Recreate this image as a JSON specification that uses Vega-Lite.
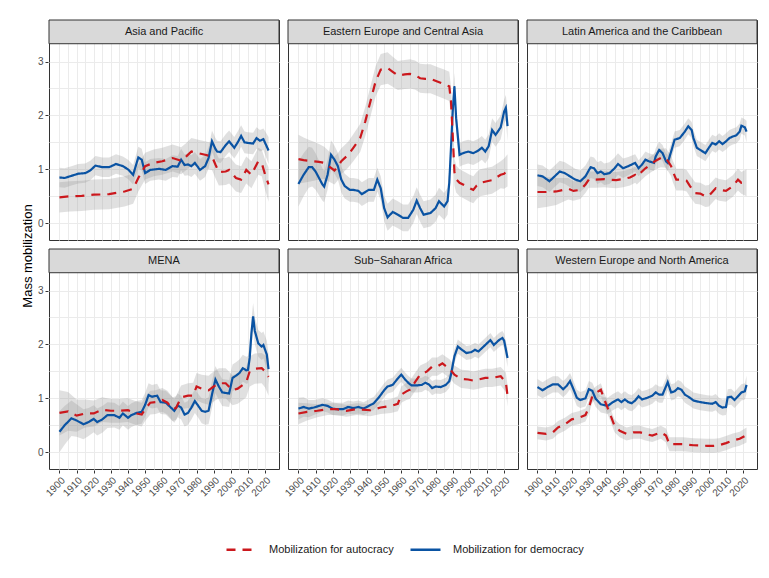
{
"$schema": "https://vega.github.io/schema/vega-lite/v6.json",
"padding": {"left": 22, "top": 19, "right": 10, "bottom": 5},
"title": {"text": "Mass mobilization", "orient": "left", "anchor": "middle", "fontSize": 13, "fontWeight": "normal", "color": "#000000", "offset": 2, "dx": 31},
"datasets": {
"names": [
{"r":"AP","region":"Asia and Pacific"},
{"r":"EE","region":"Eastern Europe and Central Asia"},
{"r":"LA","region":"Latin America and the Caribbean"},
{"r":"ME","region":"MENA"},
{"r":"SS","region":"Sub−Saharan Africa"},
{"r":"WE","region":"Western Europe and North America"}
],
"d": [
{"r":"AP","s":"d","x":1900,"v":0.85,"lo":0.67,"hi":1.03},
{"r":"AP","s":"d","x":1903,"v":0.84,"lo":0.66,"hi":1.02},
{"r":"AP","s":"d","x":1907,"v":0.88,"lo":0.70,"hi":1.06},
{"r":"AP","s":"d","x":1911,"v":0.92,"lo":0.74,"hi":1.10},
{"r":"AP","s":"d","x":1915,"v":0.93,"lo":0.75,"hi":1.11},
{"r":"AP","s":"d","x":1918,"v":0.98,"lo":0.80,"hi":1.16},
{"r":"AP","s":"d","x":1921,"v":1.07,"lo":0.89,"hi":1.25},
{"r":"AP","s":"d","x":1925,"v":1.04,"lo":0.86,"hi":1.22},
{"r":"AP","s":"d","x":1929,"v":1.04,"lo":0.86,"hi":1.22},
{"r":"AP","s":"d","x":1933,"v":1.10,"lo":0.92,"hi":1.28},
{"r":"AP","s":"d","x":1937,"v":1.06,"lo":0.88,"hi":1.24},
{"r":"AP","s":"d","x":1940,"v":1.00,"lo":0.82,"hi":1.18},
{"r":"AP","s":"d","x":1943,"v":0.90,"lo":0.72,"hi":1.08},
{"r":"AP","s":"d","x":1946,"v":1.22,"lo":1.02,"hi":1.42},
{"r":"AP","s":"d","x":1948,"v":1.18,"lo":0.98,"hi":1.38},
{"r":"AP","s":"d","x":1950,"v":0.93,"lo":0.73,"hi":1.13},
{"r":"AP","s":"d","x":1953,"v":0.99,"lo":0.79,"hi":1.19},
{"r":"AP","s":"d","x":1958,"v":1.01,"lo":0.81,"hi":1.21},
{"r":"AP","s":"d","x":1962,"v":0.99,"lo":0.79,"hi":1.19},
{"r":"AP","s":"d","x":1966,"v":1.06,"lo":0.86,"hi":1.26},
{"r":"AP","s":"d","x":1969,"v":1.05,"lo":0.85,"hi":1.25},
{"r":"AP","s":"d","x":1971,"v":1.18,"lo":0.98,"hi":1.38},
{"r":"AP","s":"d","x":1973,"v":1.08,"lo":0.88,"hi":1.28},
{"r":"AP","s":"d","x":1975,"v":1.09,"lo":0.89,"hi":1.29},
{"r":"AP","s":"d","x":1977,"v":1.06,"lo":0.86,"hi":1.26},
{"r":"AP","s":"d","x":1979,"v":1.12,"lo":0.92,"hi":1.32},
{"r":"AP","s":"d","x":1982,"v":0.99,"lo":0.79,"hi":1.19},
{"r":"AP","s":"d","x":1985,"v":1.06,"lo":0.86,"hi":1.26},
{"r":"AP","s":"d","x":1987,"v":1.21,"lo":1.01,"hi":1.41},
{"r":"AP","s":"d","x":1989,"v":1.52,"lo":1.32,"hi":1.72},
{"r":"AP","s":"d","x":1991,"v":1.38,"lo":1.18,"hi":1.58},
{"r":"AP","s":"d","x":1992,"v":1.33,"lo":1.13,"hi":1.53},
{"r":"AP","s":"d","x":1994,"v":1.32,"lo":1.12,"hi":1.52},
{"r":"AP","s":"d","x":1997,"v":1.45,"lo":1.25,"hi":1.65},
{"r":"AP","s":"d","x":1999,"v":1.52,"lo":1.32,"hi":1.72},
{"r":"AP","s":"d","x":2002,"v":1.40,"lo":1.20,"hi":1.60},
{"r":"AP","s":"d","x":2004,"v":1.50,"lo":1.30,"hi":1.70},
{"r":"AP","s":"d","x":2006,"v":1.62,"lo":1.42,"hi":1.82},
{"r":"AP","s":"d","x":2008,"v":1.50,"lo":1.30,"hi":1.70},
{"r":"AP","s":"d","x":2010,"v":1.49,"lo":1.29,"hi":1.69},
{"r":"AP","s":"d","x":2013,"v":1.48,"lo":1.28,"hi":1.68},
{"r":"AP","s":"d","x":2015,"v":1.58,"lo":1.38,"hi":1.78},
{"r":"AP","s":"d","x":2017,"v":1.53,"lo":1.33,"hi":1.73},
{"r":"AP","s":"d","x":2019,"v":1.56,"lo":1.36,"hi":1.76},
{"r":"AP","s":"d","x":2022,"v":1.35,"lo":1.10,"hi":1.60},
{"r":"AP","s":"a","x":1900,"v":0.48,"lo":0.20,"hi":0.76},
{"r":"AP","s":"a","x":1906,"v":0.50,"lo":0.22,"hi":0.78},
{"r":"AP","s":"a","x":1913,"v":0.51,"lo":0.23,"hi":0.79},
{"r":"AP","s":"a","x":1920,"v":0.53,"lo":0.25,"hi":0.81},
{"r":"AP","s":"a","x":1929,"v":0.54,"lo":0.26,"hi":0.82},
{"r":"AP","s":"a","x":1938,"v":0.59,"lo":0.31,"hi":0.87},
{"r":"AP","s":"a","x":1943,"v":0.64,"lo":0.36,"hi":0.92},
{"r":"AP","s":"a","x":1946,"v":0.84,"lo":0.59,"hi":1.09},
{"r":"AP","s":"a","x":1950,"v":1.06,"lo":0.81,"hi":1.31},
{"r":"AP","s":"a","x":1955,"v":1.12,"lo":0.87,"hi":1.37},
{"r":"AP","s":"a","x":1960,"v":1.15,"lo":0.90,"hi":1.40},
{"r":"AP","s":"a","x":1966,"v":1.21,"lo":0.96,"hi":1.46},
{"r":"AP","s":"a","x":1971,"v":1.16,"lo":0.91,"hi":1.41},
{"r":"AP","s":"a","x":1974,"v":1.24,"lo":0.99,"hi":1.49},
{"r":"AP","s":"a","x":1977,"v":1.33,"lo":1.08,"hi":1.58},
{"r":"AP","s":"a","x":1981,"v":1.30,"lo":1.05,"hi":1.55},
{"r":"AP","s":"a","x":1985,"v":1.27,"lo":1.02,"hi":1.52},
{"r":"AP","s":"a","x":1989,"v":1.24,"lo":0.99,"hi":1.49},
{"r":"AP","s":"a","x":1991,"v":1.09,"lo":0.84,"hi":1.34},
{"r":"AP","s":"a","x":1993,"v":0.95,"lo":0.70,"hi":1.20},
{"r":"AP","s":"a","x":1997,"v":0.96,"lo":0.71,"hi":1.21},
{"r":"AP","s":"a","x":1999,"v":0.99,"lo":0.74,"hi":1.24},
{"r":"AP","s":"a","x":2003,"v":0.84,"lo":0.59,"hi":1.09},
{"r":"AP","s":"a","x":2006,"v":0.81,"lo":0.56,"hi":1.06},
{"r":"AP","s":"a","x":2009,"v":0.99,"lo":0.74,"hi":1.24},
{"r":"AP","s":"a","x":2012,"v":0.90,"lo":0.65,"hi":1.15},
{"r":"AP","s":"a","x":2016,"v":1.15,"lo":0.90,"hi":1.40},
{"r":"AP","s":"a","x":2018,"v":1.12,"lo":0.87,"hi":1.37},
{"r":"AP","s":"a","x":2020,"v":0.90,"lo":0.62,"hi":1.18},
{"r":"AP","s":"a","x":2022,"v":0.72,"lo":0.40,"hi":1.04},
{"r":"EE","s":"d","x":1900,"v":0.73,"lo":0.31,"hi":1.15},
{"r":"EE","s":"d","x":1903,"v":0.90,"lo":0.50,"hi":1.30},
{"r":"EE","s":"d","x":1906,"v":1.04,"lo":0.66,"hi":1.42},
{"r":"EE","s":"d","x":1908,"v":1.04,"lo":0.68,"hi":1.40},
{"r":"EE","s":"d","x":1910,"v":0.96,"lo":0.62,"hi":1.30},
{"r":"EE","s":"d","x":1912,"v":0.84,"lo":0.52,"hi":1.16},
{"r":"EE","s":"d","x":1914,"v":0.72,"lo":0.42,"hi":1.02},
{"r":"EE","s":"d","x":1915,"v":0.68,"lo":0.39,"hi":0.97},
{"r":"EE","s":"d","x":1917,"v":0.90,"lo":0.62,"hi":1.18},
{"r":"EE","s":"d","x":1919,"v":1.27,"lo":1.00,"hi":1.54},
{"r":"EE","s":"d","x":1921,"v":1.18,"lo":0.92,"hi":1.44},
{"r":"EE","s":"d","x":1923,"v":1.06,"lo":0.81,"hi":1.31},
{"r":"EE","s":"d","x":1925,"v":0.81,"lo":0.57,"hi":1.05},
{"r":"EE","s":"d","x":1927,"v":0.69,"lo":0.46,"hi":0.92},
{"r":"EE","s":"d","x":1930,"v":0.62,"lo":0.40,"hi":0.84},
{"r":"EE","s":"d","x":1932,"v":0.62,"lo":0.40,"hi":0.84},
{"r":"EE","s":"d","x":1935,"v":0.60,"lo":0.38,"hi":0.82},
{"r":"EE","s":"d","x":1937,"v":0.54,"lo":0.32,"hi":0.76},
{"r":"EE","s":"d","x":1941,"v":0.62,"lo":0.40,"hi":0.84},
{"r":"EE","s":"d","x":1944,"v":0.62,"lo":0.40,"hi":0.84},
{"r":"EE","s":"d","x":1946,"v":0.81,"lo":0.59,"hi":1.03},
{"r":"EE","s":"d","x":1948,"v":0.65,"lo":0.43,"hi":0.87},
{"r":"EE","s":"d","x":1950,"v":0.28,"lo":0.05,"hi":0.51},
{"r":"EE","s":"d","x":1952,"v":0.11,"lo":-0.14,"hi":0.36},
{"r":"EE","s":"d","x":1955,"v":0.21,"lo":-0.04,"hi":0.46},
{"r":"EE","s":"d","x":1958,"v":0.16,"lo":-0.09,"hi":0.41},
{"r":"EE","s":"d","x":1961,"v":0.10,"lo":-0.15,"hi":0.35},
{"r":"EE","s":"d","x":1964,"v":0.10,"lo":-0.15,"hi":0.35},
{"r":"EE","s":"d","x":1967,"v":0.25,"lo":0.00,"hi":0.50},
{"r":"EE","s":"d","x":1969,"v":0.42,"lo":0.17,"hi":0.67},
{"r":"EE","s":"d","x":1971,"v":0.28,"lo":0.03,"hi":0.53},
{"r":"EE","s":"d","x":1973,"v":0.16,"lo":-0.09,"hi":0.41},
{"r":"EE","s":"d","x":1977,"v":0.19,"lo":-0.06,"hi":0.44},
{"r":"EE","s":"d","x":1980,"v":0.28,"lo":0.03,"hi":0.53},
{"r":"EE","s":"d","x":1982,"v":0.41,"lo":0.16,"hi":0.66},
{"r":"EE","s":"d","x":1985,"v":0.31,"lo":0.06,"hi":0.56},
{"r":"EE","s":"d","x":1987,"v":0.41,"lo":0.16,"hi":0.66},
{"r":"EE","s":"d","x":1988,"v":0.75,"lo":0.50,"hi":1.00},
{"r":"EE","s":"d","x":1989,"v":1.40,"lo":1.15,"hi":1.65},
{"r":"EE","s":"d","x":1990,"v":2.07,"lo":1.82,"hi":2.32},
{"r":"EE","s":"d","x":1991,"v":2.54,"lo":2.29,"hi":2.79},
{"r":"EE","s":"d","x":1992,"v":1.95,"lo":1.72,"hi":2.18},
{"r":"EE","s":"d","x":1994,"v":1.27,"lo":1.05,"hi":1.49},
{"r":"EE","s":"d","x":1996,"v":1.30,"lo":1.08,"hi":1.52},
{"r":"EE","s":"d","x":1999,"v":1.33,"lo":1.11,"hi":1.55},
{"r":"EE","s":"d","x":2002,"v":1.30,"lo":1.08,"hi":1.52},
{"r":"EE","s":"d","x":2005,"v":1.35,"lo":1.13,"hi":1.57},
{"r":"EE","s":"d","x":2007,"v":1.40,"lo":1.18,"hi":1.62},
{"r":"EE","s":"d","x":2009,"v":1.33,"lo":1.11,"hi":1.55},
{"r":"EE","s":"d","x":2011,"v":1.43,"lo":1.21,"hi":1.65},
{"r":"EE","s":"d","x":2013,"v":1.73,"lo":1.51,"hi":1.95},
{"r":"EE","s":"d","x":2015,"v":1.64,"lo":1.42,"hi":1.86},
{"r":"EE","s":"d","x":2018,"v":1.78,"lo":1.56,"hi":2.00},
{"r":"EE","s":"d","x":2020,"v":2.07,"lo":1.85,"hi":2.29},
{"r":"EE","s":"d","x":2021,"v":2.14,"lo":1.90,"hi":2.38},
{"r":"EE","s":"d","x":2022,"v":1.80,"lo":1.52,"hi":2.08},
{"r":"EE","s":"a","x":1900,"v":1.19,"lo":0.74,"hi":1.64},
{"r":"EE","s":"a","x":1903,"v":1.17,"lo":0.75,"hi":1.59},
{"r":"EE","s":"a","x":1906,"v":1.16,"lo":0.77,"hi":1.55},
{"r":"EE","s":"a","x":1909,"v":1.15,"lo":0.79,"hi":1.51},
{"r":"EE","s":"a","x":1912,"v":1.14,"lo":0.81,"hi":1.47},
{"r":"EE","s":"a","x":1915,"v":1.12,"lo":0.82,"hi":1.42},
{"r":"EE","s":"a","x":1918,"v":1.05,"lo":0.77,"hi":1.33},
{"r":"EE","s":"a","x":1921,"v":0.98,"lo":0.72,"hi":1.24},
{"r":"EE","s":"a","x":1923,"v":1.05,"lo":0.80,"hi":1.30},
{"r":"EE","s":"a","x":1925,"v":1.15,"lo":0.91,"hi":1.39},
{"r":"EE","s":"a","x":1929,"v":1.27,"lo":1.03,"hi":1.51},
{"r":"EE","s":"a","x":1932,"v":1.40,"lo":1.15,"hi":1.65},
{"r":"EE","s":"a","x":1936,"v":1.58,"lo":1.32,"hi":1.84},
{"r":"EE","s":"a","x":1939,"v":1.89,"lo":1.62,"hi":2.16},
{"r":"EE","s":"a","x":1942,"v":2.26,"lo":1.98,"hi":2.54},
{"r":"EE","s":"a","x":1945,"v":2.63,"lo":2.35,"hi":2.91},
{"r":"EE","s":"a","x":1948,"v":2.85,"lo":2.56,"hi":3.14},
{"r":"EE","s":"a","x":1952,"v":2.88,"lo":2.59,"hi":3.17},
{"r":"EE","s":"a","x":1955,"v":2.81,"lo":2.53,"hi":3.09},
{"r":"EE","s":"a","x":1958,"v":2.74,"lo":2.47,"hi":3.01},
{"r":"EE","s":"a","x":1962,"v":2.76,"lo":2.49,"hi":3.03},
{"r":"EE","s":"a","x":1965,"v":2.77,"lo":2.50,"hi":3.04},
{"r":"EE","s":"a","x":1968,"v":2.75,"lo":2.48,"hi":3.02},
{"r":"EE","s":"a","x":1971,"v":2.69,"lo":2.42,"hi":2.96},
{"r":"EE","s":"a","x":1974,"v":2.68,"lo":2.41,"hi":2.95},
{"r":"EE","s":"a","x":1977,"v":2.68,"lo":2.41,"hi":2.95},
{"r":"EE","s":"a","x":1981,"v":2.63,"lo":2.36,"hi":2.90},
{"r":"EE","s":"a","x":1985,"v":2.58,"lo":2.31,"hi":2.85},
{"r":"EE","s":"a","x":1988,"v":2.54,"lo":2.27,"hi":2.81},
{"r":"EE","s":"a","x":1989,"v":2.26,"lo":1.99,"hi":2.53},
{"r":"EE","s":"a","x":1990,"v":1.64,"lo":1.38,"hi":1.90},
{"r":"EE","s":"a","x":1991,"v":0.95,"lo":0.70,"hi":1.20},
{"r":"EE","s":"a","x":1992,"v":0.82,"lo":0.57,"hi":1.07},
{"r":"EE","s":"a","x":1994,"v":0.75,"lo":0.50,"hi":1.00},
{"r":"EE","s":"a","x":1996,"v":0.72,"lo":0.47,"hi":0.97},
{"r":"EE","s":"a","x":2000,"v":0.65,"lo":0.40,"hi":0.90},
{"r":"EE","s":"a","x":2002,"v":0.62,"lo":0.37,"hi":0.87},
{"r":"EE","s":"a","x":2004,"v":0.70,"lo":0.45,"hi":0.95},
{"r":"EE","s":"a","x":2006,"v":0.75,"lo":0.50,"hi":1.00},
{"r":"EE","s":"a","x":2010,"v":0.78,"lo":0.53,"hi":1.03},
{"r":"EE","s":"a","x":2013,"v":0.80,"lo":0.55,"hi":1.05},
{"r":"EE","s":"a","x":2016,"v":0.86,"lo":0.61,"hi":1.11},
{"r":"EE","s":"a","x":2018,"v":0.90,"lo":0.65,"hi":1.15},
{"r":"EE","s":"a","x":2020,"v":0.92,"lo":0.64,"hi":1.20},
{"r":"EE","s":"a","x":2022,"v":0.98,"lo":0.68,"hi":1.28},
{"r":"LA","s":"d","x":1900,"v":0.89,"lo":0.69,"hi":1.09},
{"r":"LA","s":"d","x":1903,"v":0.87,"lo":0.67,"hi":1.07},
{"r":"LA","s":"d","x":1907,"v":0.78,"lo":0.58,"hi":0.98},
{"r":"LA","s":"d","x":1909,"v":0.84,"lo":0.64,"hi":1.04},
{"r":"LA","s":"d","x":1913,"v":0.96,"lo":0.76,"hi":1.16},
{"r":"LA","s":"d","x":1916,"v":0.93,"lo":0.73,"hi":1.13},
{"r":"LA","s":"d","x":1919,"v":0.87,"lo":0.67,"hi":1.07},
{"r":"LA","s":"d","x":1922,"v":0.81,"lo":0.61,"hi":1.01},
{"r":"LA","s":"d","x":1925,"v":0.78,"lo":0.58,"hi":0.98},
{"r":"LA","s":"d","x":1928,"v":0.87,"lo":0.67,"hi":1.07},
{"r":"LA","s":"d","x":1931,"v":1.04,"lo":0.84,"hi":1.24},
{"r":"LA","s":"d","x":1933,"v":1.02,"lo":0.82,"hi":1.22},
{"r":"LA","s":"d","x":1935,"v":0.93,"lo":0.73,"hi":1.13},
{"r":"LA","s":"d","x":1937,"v":0.96,"lo":0.76,"hi":1.16},
{"r":"LA","s":"d","x":1939,"v":0.91,"lo":0.71,"hi":1.11},
{"r":"LA","s":"d","x":1942,"v":0.93,"lo":0.73,"hi":1.13},
{"r":"LA","s":"d","x":1945,"v":1.02,"lo":0.82,"hi":1.22},
{"r":"LA","s":"d","x":1947,"v":1.10,"lo":0.90,"hi":1.30},
{"r":"LA","s":"d","x":1950,"v":1.02,"lo":0.84,"hi":1.20},
{"r":"LA","s":"d","x":1953,"v":1.06,"lo":0.89,"hi":1.23},
{"r":"LA","s":"d","x":1957,"v":1.12,"lo":0.96,"hi":1.28},
{"r":"LA","s":"d","x":1959,"v":1.02,"lo":0.87,"hi":1.17},
{"r":"LA","s":"d","x":1961,"v":1.09,"lo":0.94,"hi":1.24},
{"r":"LA","s":"d","x":1963,"v":1.18,"lo":1.03,"hi":1.33},
{"r":"LA","s":"d","x":1965,"v":1.15,"lo":1.00,"hi":1.30},
{"r":"LA","s":"d","x":1968,"v":1.12,"lo":0.97,"hi":1.27},
{"r":"LA","s":"d","x":1969,"v":1.24,"lo":1.09,"hi":1.39},
{"r":"LA","s":"d","x":1971,"v":1.36,"lo":1.21,"hi":1.51},
{"r":"LA","s":"d","x":1973,"v":1.30,"lo":1.15,"hi":1.45},
{"r":"LA","s":"d","x":1975,"v":1.15,"lo":1.00,"hi":1.30},
{"r":"LA","s":"d","x":1976,"v":1.12,"lo":0.97,"hi":1.27},
{"r":"LA","s":"d","x":1978,"v":1.33,"lo":1.18,"hi":1.48},
{"r":"LA","s":"d","x":1980,"v":1.55,"lo":1.40,"hi":1.70},
{"r":"LA","s":"d","x":1983,"v":1.58,"lo":1.43,"hi":1.73},
{"r":"LA","s":"d","x":1986,"v":1.70,"lo":1.55,"hi":1.85},
{"r":"LA","s":"d","x":1988,"v":1.80,"lo":1.65,"hi":1.95},
{"r":"LA","s":"d","x":1990,"v":1.73,"lo":1.58,"hi":1.88},
{"r":"LA","s":"d","x":1991,"v":1.58,"lo":1.43,"hi":1.73},
{"r":"LA","s":"d","x":1993,"v":1.40,"lo":1.25,"hi":1.55},
{"r":"LA","s":"d","x":1995,"v":1.36,"lo":1.21,"hi":1.51},
{"r":"LA","s":"d","x":1998,"v":1.30,"lo":1.15,"hi":1.45},
{"r":"LA","s":"d","x":2000,"v":1.40,"lo":1.25,"hi":1.55},
{"r":"LA","s":"d","x":2002,"v":1.49,"lo":1.34,"hi":1.64},
{"r":"LA","s":"d","x":2004,"v":1.46,"lo":1.31,"hi":1.61},
{"r":"LA","s":"d","x":2006,"v":1.52,"lo":1.37,"hi":1.67},
{"r":"LA","s":"d","x":2008,"v":1.47,"lo":1.32,"hi":1.62},
{"r":"LA","s":"d","x":2010,"v":1.52,"lo":1.37,"hi":1.67},
{"r":"LA","s":"d","x":2012,"v":1.58,"lo":1.43,"hi":1.73},
{"r":"LA","s":"d","x":2014,"v":1.61,"lo":1.46,"hi":1.76},
{"r":"LA","s":"d","x":2016,"v":1.63,"lo":1.48,"hi":1.78},
{"r":"LA","s":"d","x":2018,"v":1.70,"lo":1.55,"hi":1.85},
{"r":"LA","s":"d","x":2019,"v":1.81,"lo":1.66,"hi":1.96},
{"r":"LA","s":"d","x":2021,"v":1.78,"lo":1.63,"hi":1.93},
{"r":"LA","s":"d","x":2022,"v":1.70,"lo":1.50,"hi":1.90},
{"r":"LA","s":"a","x":1900,"v":0.58,"lo":0.28,"hi":0.88},
{"r":"LA","s":"a","x":1905,"v":0.58,"lo":0.30,"hi":0.86},
{"r":"LA","s":"a","x":1911,"v":0.59,"lo":0.34,"hi":0.84},
{"r":"LA","s":"a","x":1915,"v":0.62,"lo":0.40,"hi":0.84},
{"r":"LA","s":"a","x":1918,"v":0.64,"lo":0.44,"hi":0.84},
{"r":"LA","s":"a","x":1921,"v":0.60,"lo":0.42,"hi":0.78},
{"r":"LA","s":"a","x":1925,"v":0.62,"lo":0.45,"hi":0.79},
{"r":"LA","s":"a","x":1928,"v":0.72,"lo":0.56,"hi":0.88},
{"r":"LA","s":"a","x":1930,"v":0.81,"lo":0.66,"hi":0.96},
{"r":"LA","s":"a","x":1934,"v":0.81,"lo":0.66,"hi":0.96},
{"r":"LA","s":"a","x":1939,"v":0.82,"lo":0.67,"hi":0.97},
{"r":"LA","s":"a","x":1942,"v":0.81,"lo":0.66,"hi":0.96},
{"r":"LA","s":"a","x":1946,"v":0.80,"lo":0.65,"hi":0.95},
{"r":"LA","s":"a","x":1950,"v":0.82,"lo":0.67,"hi":0.97},
{"r":"LA","s":"a","x":1954,"v":0.85,"lo":0.70,"hi":1.00},
{"r":"LA","s":"a","x":1957,"v":0.90,"lo":0.75,"hi":1.05},
{"r":"LA","s":"a","x":1958,"v":0.87,"lo":0.72,"hi":1.02},
{"r":"LA","s":"a","x":1961,"v":0.96,"lo":0.81,"hi":1.11},
{"r":"LA","s":"a","x":1963,"v":1.02,"lo":0.87,"hi":1.17},
{"r":"LA","s":"a","x":1966,"v":1.09,"lo":0.94,"hi":1.24},
{"r":"LA","s":"a","x":1969,"v":1.16,"lo":1.00,"hi":1.32},
{"r":"LA","s":"a","x":1972,"v":1.21,"lo":1.04,"hi":1.38},
{"r":"LA","s":"a","x":1975,"v":1.21,"lo":1.03,"hi":1.39},
{"r":"LA","s":"a","x":1978,"v":1.06,"lo":0.87,"hi":1.25},
{"r":"LA","s":"a","x":1979,"v":0.96,"lo":0.76,"hi":1.16},
{"r":"LA","s":"a","x":1981,"v":0.81,"lo":0.61,"hi":1.01},
{"r":"LA","s":"a","x":1985,"v":0.81,"lo":0.61,"hi":1.01},
{"r":"LA","s":"a","x":1987,"v":0.79,"lo":0.59,"hi":0.99},
{"r":"LA","s":"a","x":1989,"v":0.69,"lo":0.49,"hi":0.89},
{"r":"LA","s":"a","x":1992,"v":0.56,"lo":0.36,"hi":0.76},
{"r":"LA","s":"a","x":1995,"v":0.55,"lo":0.35,"hi":0.75},
{"r":"LA","s":"a","x":1998,"v":0.50,"lo":0.30,"hi":0.70},
{"r":"LA","s":"a","x":2000,"v":0.51,"lo":0.31,"hi":0.71},
{"r":"LA","s":"a","x":2004,"v":0.65,"lo":0.45,"hi":0.85},
{"r":"LA","s":"a","x":2006,"v":0.62,"lo":0.42,"hi":0.82},
{"r":"LA","s":"a","x":2010,"v":0.60,"lo":0.40,"hi":0.80},
{"r":"LA","s":"a","x":2014,"v":0.69,"lo":0.49,"hi":0.89},
{"r":"LA","s":"a","x":2017,"v":0.81,"lo":0.61,"hi":1.01},
{"r":"LA","s":"a","x":2019,"v":0.75,"lo":0.55,"hi":0.95},
{"r":"LA","s":"a","x":2022,"v":0.75,"lo":0.50,"hi":1.00},
{"r":"ME","s":"d","x":1900,"v":0.38,"lo":0.00,"hi":0.76},
{"r":"ME","s":"d","x":1903,"v":0.50,"lo":0.14,"hi":0.86},
{"r":"ME","s":"d","x":1907,"v":0.63,"lo":0.30,"hi":0.96},
{"r":"ME","s":"d","x":1910,"v":0.59,"lo":0.29,"hi":0.89},
{"r":"ME","s":"d","x":1914,"v":0.52,"lo":0.24,"hi":0.80},
{"r":"ME","s":"d","x":1917,"v":0.56,"lo":0.30,"hi":0.82},
{"r":"ME","s":"d","x":1920,"v":0.62,"lo":0.37,"hi":0.87},
{"r":"ME","s":"d","x":1922,"v":0.56,"lo":0.31,"hi":0.81},
{"r":"ME","s":"d","x":1925,"v":0.61,"lo":0.36,"hi":0.86},
{"r":"ME","s":"d","x":1928,"v":0.69,"lo":0.45,"hi":0.93},
{"r":"ME","s":"d","x":1932,"v":0.69,"lo":0.46,"hi":0.92},
{"r":"ME","s":"d","x":1935,"v":0.64,"lo":0.42,"hi":0.86},
{"r":"ME","s":"d","x":1937,"v":0.72,"lo":0.50,"hi":0.94},
{"r":"ME","s":"d","x":1940,"v":0.64,"lo":0.42,"hi":0.86},
{"r":"ME","s":"d","x":1942,"v":0.69,"lo":0.47,"hi":0.91},
{"r":"ME","s":"d","x":1945,"v":0.73,"lo":0.51,"hi":0.95},
{"r":"ME","s":"d","x":1948,"v":0.75,"lo":0.53,"hi":0.97},
{"r":"ME","s":"d","x":1950,"v":0.88,"lo":0.66,"hi":1.10},
{"r":"ME","s":"d","x":1952,"v":1.06,"lo":0.84,"hi":1.28},
{"r":"ME","s":"d","x":1954,"v":1.03,"lo":0.81,"hi":1.25},
{"r":"ME","s":"d","x":1957,"v":1.05,"lo":0.83,"hi":1.27},
{"r":"ME","s":"d","x":1959,"v":0.93,"lo":0.71,"hi":1.15},
{"r":"ME","s":"d","x":1962,"v":0.92,"lo":0.70,"hi":1.14},
{"r":"ME","s":"d","x":1964,"v":0.86,"lo":0.64,"hi":1.08},
{"r":"ME","s":"d","x":1967,"v":0.77,"lo":0.55,"hi":0.99},
{"r":"ME","s":"d","x":1969,"v":0.87,"lo":0.65,"hi":1.09},
{"r":"ME","s":"d","x":1971,"v":0.83,"lo":0.61,"hi":1.05},
{"r":"ME","s":"d","x":1973,"v":0.70,"lo":0.48,"hi":0.92},
{"r":"ME","s":"d","x":1975,"v":0.73,"lo":0.51,"hi":0.95},
{"r":"ME","s":"d","x":1977,"v":0.83,"lo":0.61,"hi":1.05},
{"r":"ME","s":"d","x":1979,"v":0.95,"lo":0.73,"hi":1.17},
{"r":"ME","s":"d","x":1981,"v":0.86,"lo":0.64,"hi":1.08},
{"r":"ME","s":"d","x":1983,"v":0.77,"lo":0.54,"hi":1.00},
{"r":"ME","s":"d","x":1985,"v":0.75,"lo":0.51,"hi":0.99},
{"r":"ME","s":"d","x":1987,"v":0.77,"lo":0.52,"hi":1.02},
{"r":"ME","s":"d","x":1989,"v":1.07,"lo":0.82,"hi":1.32},
{"r":"ME","s":"d","x":1991,"v":1.35,"lo":1.10,"hi":1.60},
{"r":"ME","s":"d","x":1993,"v":1.22,"lo":0.97,"hi":1.47},
{"r":"ME","s":"d","x":1995,"v":1.11,"lo":0.86,"hi":1.36},
{"r":"ME","s":"d","x":1999,"v":1.09,"lo":0.84,"hi":1.34},
{"r":"ME","s":"d","x":2001,"v":1.38,"lo":1.13,"hi":1.63},
{"r":"ME","s":"d","x":2003,"v":1.42,"lo":1.17,"hi":1.67},
{"r":"ME","s":"d","x":2005,"v":1.47,"lo":1.22,"hi":1.72},
{"r":"ME","s":"d","x":2007,"v":1.56,"lo":1.31,"hi":1.81},
{"r":"ME","s":"d","x":2009,"v":1.52,"lo":1.27,"hi":1.77},
{"r":"ME","s":"d","x":2010,"v":1.53,"lo":1.28,"hi":1.78},
{"r":"ME","s":"d","x":2011,"v":1.75,"lo":1.50,"hi":2.00},
{"r":"ME","s":"d","x":2012,"v":2.20,"lo":1.95,"hi":2.45},
{"r":"ME","s":"d","x":2013,"v":2.52,"lo":2.27,"hi":2.77},
{"r":"ME","s":"d","x":2014,"v":2.25,"lo":2.00,"hi":2.50},
{"r":"ME","s":"d","x":2016,"v":2.02,"lo":1.77,"hi":2.27},
{"r":"ME","s":"d","x":2018,"v":1.96,"lo":1.71,"hi":2.21},
{"r":"ME","s":"d","x":2019,"v":1.99,"lo":1.74,"hi":2.24},
{"r":"ME","s":"d","x":2021,"v":1.81,"lo":1.55,"hi":2.07},
{"r":"ME","s":"d","x":2022,"v":1.54,"lo":1.26,"hi":1.82},
{"r":"ME","s":"a","x":1900,"v":0.73,"lo":0.31,"hi":1.15},
{"r":"ME","s":"a","x":1905,"v":0.76,"lo":0.40,"hi":1.12},
{"r":"ME","s":"a","x":1910,"v":0.68,"lo":0.38,"hi":0.98},
{"r":"ME","s":"a","x":1915,"v":0.72,"lo":0.46,"hi":0.98},
{"r":"ME","s":"a","x":1920,"v":0.72,"lo":0.48,"hi":0.96},
{"r":"ME","s":"a","x":1925,"v":0.79,"lo":0.56,"hi":1.02},
{"r":"ME","s":"a","x":1930,"v":0.77,"lo":0.55,"hi":0.99},
{"r":"ME","s":"a","x":1935,"v":0.77,"lo":0.55,"hi":0.99},
{"r":"ME","s":"a","x":1940,"v":0.78,"lo":0.56,"hi":1.00},
{"r":"ME","s":"a","x":1945,"v":0.72,"lo":0.50,"hi":0.94},
{"r":"ME","s":"a","x":1948,"v":0.70,"lo":0.48,"hi":0.92},
{"r":"ME","s":"a","x":1950,"v":0.80,"lo":0.58,"hi":1.02},
{"r":"ME","s":"a","x":1953,"v":0.92,"lo":0.70,"hi":1.14},
{"r":"ME","s":"a","x":1956,"v":0.93,"lo":0.71,"hi":1.15},
{"r":"ME","s":"a","x":1960,"v":0.97,"lo":0.75,"hi":1.19},
{"r":"ME","s":"a","x":1963,"v":0.92,"lo":0.70,"hi":1.14},
{"r":"ME","s":"a","x":1966,"v":0.80,"lo":0.58,"hi":1.02},
{"r":"ME","s":"a","x":1968,"v":0.82,"lo":0.60,"hi":1.04},
{"r":"ME","s":"a","x":1971,"v":1.02,"lo":0.80,"hi":1.24},
{"r":"ME","s":"a","x":1975,"v":1.05,"lo":0.82,"hi":1.28},
{"r":"ME","s":"a","x":1978,"v":1.05,"lo":0.81,"hi":1.29},
{"r":"ME","s":"a","x":1980,"v":1.22,"lo":0.97,"hi":1.47},
{"r":"ME","s":"a","x":1983,"v":1.18,"lo":0.92,"hi":1.44},
{"r":"ME","s":"a","x":1987,"v":1.15,"lo":0.88,"hi":1.42},
{"r":"ME","s":"a","x":1990,"v":1.22,"lo":0.94,"hi":1.50},
{"r":"ME","s":"a","x":1993,"v":1.28,"lo":1.00,"hi":1.56},
{"r":"ME","s":"a","x":1997,"v":1.28,"lo":1.00,"hi":1.56},
{"r":"ME","s":"a","x":2001,"v":1.15,"lo":0.87,"hi":1.43},
{"r":"ME","s":"a","x":2004,"v":1.18,"lo":0.90,"hi":1.46},
{"r":"ME","s":"a","x":2007,"v":1.25,"lo":0.97,"hi":1.53},
{"r":"ME","s":"a","x":2009,"v":1.30,"lo":1.02,"hi":1.58},
{"r":"ME","s":"a","x":2011,"v":1.50,"lo":1.22,"hi":1.78},
{"r":"ME","s":"a","x":2014,"v":1.55,"lo":1.27,"hi":1.83},
{"r":"ME","s":"a","x":2018,"v":1.56,"lo":1.28,"hi":1.84},
{"r":"ME","s":"a","x":2020,"v":1.50,"lo":1.20,"hi":1.80},
{"r":"ME","s":"a","x":2022,"v":1.40,"lo":1.05,"hi":1.75},
{"r":"SS","s":"d","x":1900,"v":0.81,"lo":0.61,"hi":1.01},
{"r":"SS","s":"d","x":1903,"v":0.84,"lo":0.66,"hi":1.02},
{"r":"SS","s":"d","x":1906,"v":0.81,"lo":0.65,"hi":0.97},
{"r":"SS","s":"d","x":1909,"v":0.83,"lo":0.69,"hi":0.97},
{"r":"SS","s":"d","x":1912,"v":0.86,"lo":0.73,"hi":0.99},
{"r":"SS","s":"d","x":1914,"v":0.88,"lo":0.76,"hi":1.00},
{"r":"SS","s":"d","x":1917,"v":0.86,"lo":0.74,"hi":0.98},
{"r":"SS","s":"d","x":1920,"v":0.81,"lo":0.69,"hi":0.93},
{"r":"SS","s":"d","x":1922,"v":0.80,"lo":0.68,"hi":0.92},
{"r":"SS","s":"d","x":1926,"v":0.80,"lo":0.68,"hi":0.92},
{"r":"SS","s":"d","x":1929,"v":0.84,"lo":0.72,"hi":0.96},
{"r":"SS","s":"d","x":1932,"v":0.82,"lo":0.70,"hi":0.94},
{"r":"SS","s":"d","x":1935,"v":0.84,"lo":0.72,"hi":0.96},
{"r":"SS","s":"d","x":1938,"v":0.81,"lo":0.69,"hi":0.93},
{"r":"SS","s":"d","x":1941,"v":0.86,"lo":0.74,"hi":0.98},
{"r":"SS","s":"d","x":1944,"v":0.91,"lo":0.79,"hi":1.03},
{"r":"SS","s":"d","x":1947,"v":1.02,"lo":0.89,"hi":1.15},
{"r":"SS","s":"d","x":1950,"v":1.15,"lo":1.02,"hi":1.28},
{"r":"SS","s":"d","x":1952,"v":1.22,"lo":1.09,"hi":1.35},
{"r":"SS","s":"d","x":1955,"v":1.25,"lo":1.12,"hi":1.38},
{"r":"SS","s":"d","x":1958,"v":1.37,"lo":1.24,"hi":1.50},
{"r":"SS","s":"d","x":1960,"v":1.44,"lo":1.31,"hi":1.57},
{"r":"SS","s":"d","x":1962,"v":1.36,"lo":1.23,"hi":1.49},
{"r":"SS","s":"d","x":1964,"v":1.29,"lo":1.16,"hi":1.42},
{"r":"SS","s":"d","x":1966,"v":1.24,"lo":1.11,"hi":1.37},
{"r":"SS","s":"d","x":1969,"v":1.24,"lo":1.11,"hi":1.37},
{"r":"SS","s":"d","x":1972,"v":1.25,"lo":1.12,"hi":1.38},
{"r":"SS","s":"d","x":1974,"v":1.29,"lo":1.16,"hi":1.42},
{"r":"SS","s":"d","x":1976,"v":1.26,"lo":1.13,"hi":1.39},
{"r":"SS","s":"d","x":1978,"v":1.19,"lo":1.06,"hi":1.32},
{"r":"SS","s":"d","x":1980,"v":1.22,"lo":1.09,"hi":1.35},
{"r":"SS","s":"d","x":1983,"v":1.21,"lo":1.08,"hi":1.34},
{"r":"SS","s":"d","x":1986,"v":1.25,"lo":1.12,"hi":1.38},
{"r":"SS","s":"d","x":1988,"v":1.32,"lo":1.19,"hi":1.45},
{"r":"SS","s":"d","x":1989,"v":1.44,"lo":1.31,"hi":1.57},
{"r":"SS","s":"d","x":1991,"v":1.78,"lo":1.65,"hi":1.91},
{"r":"SS","s":"d","x":1993,"v":1.96,"lo":1.83,"hi":2.09},
{"r":"SS","s":"d","x":1995,"v":1.91,"lo":1.78,"hi":2.04},
{"r":"SS","s":"d","x":1998,"v":1.84,"lo":1.71,"hi":1.97},
{"r":"SS","s":"d","x":2001,"v":1.86,"lo":1.73,"hi":1.99},
{"r":"SS","s":"d","x":2003,"v":1.90,"lo":1.77,"hi":2.03},
{"r":"SS","s":"d","x":2005,"v":1.87,"lo":1.74,"hi":2.00},
{"r":"SS","s":"d","x":2007,"v":1.93,"lo":1.80,"hi":2.06},
{"r":"SS","s":"d","x":2009,"v":1.99,"lo":1.86,"hi":2.12},
{"r":"SS","s":"d","x":2012,"v":2.08,"lo":1.95,"hi":2.21},
{"r":"SS","s":"d","x":2014,"v":1.99,"lo":1.86,"hi":2.12},
{"r":"SS","s":"d","x":2017,"v":2.08,"lo":1.95,"hi":2.21},
{"r":"SS","s":"d","x":2019,"v":2.12,"lo":1.99,"hi":2.25},
{"r":"SS","s":"d","x":2020,"v":2.07,"lo":1.94,"hi":2.20},
{"r":"SS","s":"d","x":2022,"v":1.75,"lo":1.58,"hi":1.92},
{"r":"SS","s":"a","x":1900,"v":0.72,"lo":0.52,"hi":0.92},
{"r":"SS","s":"a","x":1905,"v":0.75,"lo":0.59,"hi":0.91},
{"r":"SS","s":"a","x":1911,"v":0.77,"lo":0.65,"hi":0.89},
{"r":"SS","s":"a","x":1917,"v":0.80,"lo":0.69,"hi":0.91},
{"r":"SS","s":"a","x":1922,"v":0.80,"lo":0.69,"hi":0.91},
{"r":"SS","s":"a","x":1928,"v":0.77,"lo":0.66,"hi":0.88},
{"r":"SS","s":"a","x":1934,"v":0.80,"lo":0.69,"hi":0.91},
{"r":"SS","s":"a","x":1942,"v":0.78,"lo":0.67,"hi":0.89},
{"r":"SS","s":"a","x":1948,"v":0.83,"lo":0.71,"hi":0.95},
{"r":"SS","s":"a","x":1954,"v":0.86,"lo":0.73,"hi":0.99},
{"r":"SS","s":"a","x":1958,"v":0.90,"lo":0.76,"hi":1.04},
{"r":"SS","s":"a","x":1960,"v":1.07,"lo":0.92,"hi":1.22},
{"r":"SS","s":"a","x":1963,"v":1.13,"lo":0.97,"hi":1.29},
{"r":"SS","s":"a","x":1965,"v":1.16,"lo":0.99,"hi":1.33},
{"r":"SS","s":"a","x":1968,"v":1.30,"lo":1.13,"hi":1.47},
{"r":"SS","s":"a","x":1971,"v":1.44,"lo":1.27,"hi":1.61},
{"r":"SS","s":"a","x":1975,"v":1.50,"lo":1.33,"hi":1.67},
{"r":"SS","s":"a","x":1978,"v":1.59,"lo":1.42,"hi":1.76},
{"r":"SS","s":"a","x":1981,"v":1.59,"lo":1.42,"hi":1.76},
{"r":"SS","s":"a","x":1984,"v":1.65,"lo":1.48,"hi":1.82},
{"r":"SS","s":"a","x":1986,"v":1.60,"lo":1.43,"hi":1.77},
{"r":"SS","s":"a","x":1988,"v":1.56,"lo":1.39,"hi":1.73},
{"r":"SS","s":"a","x":1991,"v":1.44,"lo":1.27,"hi":1.61},
{"r":"SS","s":"a","x":1995,"v":1.36,"lo":1.19,"hi":1.53},
{"r":"SS","s":"a","x":1999,"v":1.35,"lo":1.18,"hi":1.52},
{"r":"SS","s":"a","x":2002,"v":1.33,"lo":1.16,"hi":1.50},
{"r":"SS","s":"a","x":2005,"v":1.35,"lo":1.18,"hi":1.52},
{"r":"SS","s":"a","x":2009,"v":1.38,"lo":1.21,"hi":1.55},
{"r":"SS","s":"a","x":2013,"v":1.38,"lo":1.21,"hi":1.55},
{"r":"SS","s":"a","x":2018,"v":1.41,"lo":1.24,"hi":1.58},
{"r":"SS","s":"a","x":2021,"v":1.30,"lo":1.12,"hi":1.48},
{"r":"SS","s":"a","x":2022,"v":1.05,"lo":0.85,"hi":1.25},
{"r":"WE","s":"d","x":1900,"v":1.21,"lo":1.06,"hi":1.36},
{"r":"WE","s":"d","x":1903,"v":1.15,"lo":1.00,"hi":1.30},
{"r":"WE","s":"d","x":1906,"v":1.21,"lo":1.06,"hi":1.36},
{"r":"WE","s":"d","x":1909,"v":1.26,"lo":1.11,"hi":1.41},
{"r":"WE","s":"d","x":1912,"v":1.26,"lo":1.11,"hi":1.41},
{"r":"WE","s":"d","x":1915,"v":1.17,"lo":1.02,"hi":1.32},
{"r":"WE","s":"d","x":1917,"v":1.23,"lo":1.08,"hi":1.38},
{"r":"WE","s":"d","x":1919,"v":1.32,"lo":1.17,"hi":1.47},
{"r":"WE","s":"d","x":1921,"v":1.17,"lo":1.02,"hi":1.32},
{"r":"WE","s":"d","x":1923,"v":1.01,"lo":0.86,"hi":1.16},
{"r":"WE","s":"d","x":1925,"v":0.97,"lo":0.82,"hi":1.12},
{"r":"WE","s":"d","x":1928,"v":1.00,"lo":0.85,"hi":1.15},
{"r":"WE","s":"d","x":1930,"v":1.17,"lo":1.02,"hi":1.32},
{"r":"WE","s":"d","x":1932,"v":1.14,"lo":0.99,"hi":1.29},
{"r":"WE","s":"d","x":1934,"v":0.99,"lo":0.84,"hi":1.14},
{"r":"WE","s":"d","x":1937,"v":0.89,"lo":0.74,"hi":1.04},
{"r":"WE","s":"d","x":1941,"v":0.86,"lo":0.71,"hi":1.01},
{"r":"WE","s":"d","x":1944,"v":0.93,"lo":0.78,"hi":1.08},
{"r":"WE","s":"d","x":1947,"v":0.98,"lo":0.83,"hi":1.13},
{"r":"WE","s":"d","x":1949,"v":0.93,"lo":0.78,"hi":1.08},
{"r":"WE","s":"d","x":1951,"v":0.98,"lo":0.83,"hi":1.13},
{"r":"WE","s":"d","x":1953,"v":0.93,"lo":0.78,"hi":1.08},
{"r":"WE","s":"d","x":1955,"v":0.91,"lo":0.76,"hi":1.06},
{"r":"WE","s":"d","x":1957,"v":0.96,"lo":0.81,"hi":1.11},
{"r":"WE","s":"d","x":1959,"v":1.04,"lo":0.89,"hi":1.19},
{"r":"WE","s":"d","x":1961,"v":0.98,"lo":0.83,"hi":1.13},
{"r":"WE","s":"d","x":1964,"v":1.01,"lo":0.86,"hi":1.16},
{"r":"WE","s":"d","x":1967,"v":1.05,"lo":0.90,"hi":1.20},
{"r":"WE","s":"d","x":1969,"v":1.11,"lo":0.96,"hi":1.26},
{"r":"WE","s":"d","x":1971,"v":1.07,"lo":0.92,"hi":1.22},
{"r":"WE","s":"d","x":1973,"v":1.07,"lo":0.92,"hi":1.22},
{"r":"WE","s":"d","x":1976,"v":1.30,"lo":1.15,"hi":1.45},
{"r":"WE","s":"d","x":1978,"v":1.11,"lo":0.96,"hi":1.26},
{"r":"WE","s":"d","x":1980,"v":1.13,"lo":0.98,"hi":1.28},
{"r":"WE","s":"d","x":1982,"v":1.19,"lo":1.04,"hi":1.34},
{"r":"WE","s":"d","x":1984,"v":1.16,"lo":1.01,"hi":1.31},
{"r":"WE","s":"d","x":1986,"v":1.07,"lo":0.92,"hi":1.22},
{"r":"WE","s":"d","x":1989,"v":1.01,"lo":0.86,"hi":1.16},
{"r":"WE","s":"d","x":1991,"v":0.96,"lo":0.81,"hi":1.11},
{"r":"WE","s":"d","x":1995,"v":0.93,"lo":0.78,"hi":1.08},
{"r":"WE","s":"d","x":1999,"v":0.91,"lo":0.76,"hi":1.06},
{"r":"WE","s":"d","x":2002,"v":0.90,"lo":0.75,"hi":1.05},
{"r":"WE","s":"d","x":2004,"v":0.93,"lo":0.78,"hi":1.08},
{"r":"WE","s":"d","x":2006,"v":0.86,"lo":0.71,"hi":1.01},
{"r":"WE","s":"d","x":2008,"v":0.83,"lo":0.68,"hi":0.98},
{"r":"WE","s":"d","x":2010,"v":0.84,"lo":0.69,"hi":0.99},
{"r":"WE","s":"d","x":2011,"v":1.02,"lo":0.87,"hi":1.17},
{"r":"WE","s":"d","x":2013,"v":1.03,"lo":0.88,"hi":1.18},
{"r":"WE","s":"d","x":2015,"v":0.97,"lo":0.82,"hi":1.12},
{"r":"WE","s":"d","x":2017,"v":1.04,"lo":0.89,"hi":1.19},
{"r":"WE","s":"d","x":2019,"v":1.11,"lo":0.96,"hi":1.26},
{"r":"WE","s":"d","x":2021,"v":1.13,"lo":0.98,"hi":1.28},
{"r":"WE","s":"d","x":2022,"v":1.25,"lo":1.08,"hi":1.42},
{"r":"WE","s":"a","x":1900,"v":0.36,"lo":0.24,"hi":0.48},
{"r":"WE","s":"a","x":1905,"v":0.34,"lo":0.22,"hi":0.46},
{"r":"WE","s":"a","x":1909,"v":0.37,"lo":0.25,"hi":0.49},
{"r":"WE","s":"a","x":1912,"v":0.46,"lo":0.34,"hi":0.58},
{"r":"WE","s":"a","x":1916,"v":0.52,"lo":0.40,"hi":0.64},
{"r":"WE","s":"a","x":1920,"v":0.61,"lo":0.49,"hi":0.73},
{"r":"WE","s":"a","x":1924,"v":0.64,"lo":0.52,"hi":0.76},
{"r":"WE","s":"a","x":1928,"v":0.69,"lo":0.57,"hi":0.81},
{"r":"WE","s":"a","x":1930,"v":0.83,"lo":0.71,"hi":0.95},
{"r":"WE","s":"a","x":1932,"v":1.04,"lo":0.92,"hi":1.16},
{"r":"WE","s":"a","x":1934,"v":1.10,"lo":0.98,"hi":1.22},
{"r":"WE","s":"a","x":1937,"v":1.16,"lo":1.04,"hi":1.28},
{"r":"WE","s":"a","x":1939,"v":0.98,"lo":0.86,"hi":1.10},
{"r":"WE","s":"a","x":1942,"v":0.74,"lo":0.62,"hi":0.86},
{"r":"WE","s":"a","x":1945,"v":0.49,"lo":0.37,"hi":0.61},
{"r":"WE","s":"a","x":1948,"v":0.40,"lo":0.28,"hi":0.52},
{"r":"WE","s":"a","x":1952,"v":0.34,"lo":0.22,"hi":0.46},
{"r":"WE","s":"a","x":1956,"v":0.37,"lo":0.25,"hi":0.49},
{"r":"WE","s":"a","x":1960,"v":0.37,"lo":0.25,"hi":0.49},
{"r":"WE","s":"a","x":1963,"v":0.34,"lo":0.22,"hi":0.46},
{"r":"WE","s":"a","x":1967,"v":0.31,"lo":0.19,"hi":0.43},
{"r":"WE","s":"a","x":1972,"v":0.37,"lo":0.25,"hi":0.49},
{"r":"WE","s":"a","x":1975,"v":0.31,"lo":0.18,"hi":0.44},
{"r":"WE","s":"a","x":1977,"v":0.15,"lo":0.02,"hi":0.28},
{"r":"WE","s":"a","x":1981,"v":0.15,"lo":0.02,"hi":0.28},
{"r":"WE","s":"a","x":1985,"v":0.15,"lo":0.02,"hi":0.28},
{"r":"WE","s":"a","x":1991,"v":0.13,"lo":0.00,"hi":0.26},
{"r":"WE","s":"a","x":1999,"v":0.12,"lo":-0.01,"hi":0.25},
{"r":"WE","s":"a","x":2003,"v":0.12,"lo":-0.01,"hi":0.25},
{"r":"WE","s":"a","x":2006,"v":0.13,"lo":0.00,"hi":0.26},
{"r":"WE","s":"a","x":2010,"v":0.17,"lo":0.04,"hi":0.30},
{"r":"WE","s":"a","x":2014,"v":0.22,"lo":0.09,"hi":0.35},
{"r":"WE","s":"a","x":2018,"v":0.25,"lo":0.12,"hi":0.38},
{"r":"WE","s":"a","x":2022,"v":0.32,"lo":0.18,"hi":0.46}
]
},
"data": {"name": "d"},
"transform": [{"lookup": "r", "from": {"data": {"name": "names"}, "key": "r", "fields": ["region"]}}],
"facet": {"field": "region", "type": "nominal", "header": {"title": null, "labels": false, "labelExpr": "''", "labelFontSize": 0, "labelPadding": 0}},
"columns": 3,
"spacing": {"row": 7, "column": 7},
"spec": {
"width": 230,
"height": 220,
"layer": [
{
"mark": {"type": "area", "fill": "#999999", "fillOpacity": 0.3},
"encoding": {
"x": {"field": "x", "type": "quantitative", "scale": {"domain": [1893.9, 2028.1], "nice": false, "zero": false},
"axis": {"title": null, "values": [1900,1905,1910,1915,1920,1925,1930,1935,1940,1945,1950,1955,1960,1965,1970,1975,1980,1985,1990,1995,2000,2005,2010,2015,2020], "labelOverlap": false, "labelBound": false, "labelExpr": "datum.value % 10 === 0 ? '' + datum.value : ''", "labelAngle": -45, "tickOpacity": {"condition": {"test": "datum.value % 10 === 0", "value": 1}, "value": 0}}},
"y": {"field": "lo", "type": "quantitative", "scale": {"domain": [-0.31, 3.77], "nice": false, "zero": false},
"axis": {"title": null, "values": [0,0.5,1,1.5,2,2.5,3], "labelOverlap": false, "labelExpr": "datum.value % 1 === 0 ? '' + datum.value : ''", "tickOpacity": {"condition": {"test": "datum.value % 1 === 0", "value": 1}, "value": 0}}},
"y2": {"field": "hi"},
"detail": {"field": "s"}
}
},
{
"mark": {"type": "line", "strokeWidth": 2.2},
"encoding": {
"x": {"field": "x", "type": "quantitative",
"axis": {"title": null, "values": [1900,1905,1910,1915,1920,1925,1930,1935,1940,1945,1950,1955,1960,1965,1970,1975,1980,1985,1990,1995,2000,2005,2010,2015,2020], "labelOverlap": false, "labelBound": false, "labelExpr": "datum.value % 10 === 0 ? '' + datum.value : ''", "labelAngle": -45, "tickOpacity": {"condition": {"test": "datum.value % 10 === 0", "value": 1}, "value": 0}}},
"y": {"field": "v", "type": "quantitative",
"axis": {"title": null, "values": [0,0.5,1,1.5,2,2.5,3], "labelOverlap": false, "labelExpr": "datum.value % 1 === 0 ? '' + datum.value : ''", "tickOpacity": {"condition": {"test": "datum.value % 1 === 0", "value": 1}, "value": 0}}},
"color": {"field": "s", "type": "nominal", "scale": {"domain": ["a","d"], "range": ["#cb181d","#0a53a3"]},
"legend": {"title": null, "orient": "none", "legendX": 176, "legendY": 513, "direction": "horizontal", "symbolType": "stroke", "symbolSize": 900, "symbolStrokeWidth": 2.5, "labelFontSize": 11, "labelColor": "#1a1a1a", "labelOffset": 11, "columnPadding": 11, "labelExpr": "datum.value === 'a' ? 'Mobilization for autocracy' : 'Mobilization for democracy'"}},
"strokeDash": {"field": "s", "type": "nominal", "scale": {"domain": ["a","d"], "range": [[9,7],[1,0]]},
"legend": {"title": null, "orient": "none", "legendX": 176, "legendY": 513, "direction": "horizontal", "symbolType": "stroke", "symbolSize": 900, "symbolStrokeWidth": 2.5, "labelFontSize": 11, "labelColor": "#1a1a1a", "labelOffset": 11, "columnPadding": 11, "labelExpr": "datum.value === 'a' ? 'Mobilization for autocracy' : 'Mobilization for democracy'"}}
}
},
{
"transform": [{"aggregate": [{"op": "count", "as": "n"}], "groupby": ["region"]}],
"mark": {"type": "rect", "fill": "#d9d9d9", "stroke": "#333333", "strokeWidth": 1},
"encoding": {
"y": {"datum": 3.33, "type": "quantitative",
"axis": {"title": null, "values": [0,0.5,1,1.5,2,2.5,3], "labelOverlap": false, "labelExpr": "datum.value % 1 === 0 ? '' + datum.value : ''", "tickOpacity": {"condition": {"test": "datum.value % 1 === 0", "value": 1}, "value": 0}}},
"y2": {"datum": 3.77}
}
},
{
"transform": [{"aggregate": [{"op": "count", "as": "n"}], "groupby": ["region"]}],
"mark": {"type": "text", "fontSize": 11, "color": "#1a1a1a", "baseline": "middle", "align": "center"},
"encoding": {
"x": {"datum": 1961, "type": "quantitative",
"axis": {"title": null, "values": [1900,1905,1910,1915,1920,1925,1930,1935,1940,1945,1950,1955,1960,1965,1970,1975,1980,1985,1990,1995,2000,2005,2010,2015,2020], "labelOverlap": false, "labelBound": false, "labelExpr": "datum.value % 10 === 0 ? '' + datum.value : ''", "labelAngle": -45, "tickOpacity": {"condition": {"test": "datum.value % 10 === 0", "value": 1}, "value": 0}}},
"y": {"datum": 3.55, "type": "quantitative",
"axis": {"title": null, "values": [0,0.5,1,1.5,2,2.5,3], "labelOverlap": false, "labelExpr": "datum.value % 1 === 0 ? '' + datum.value : ''", "tickOpacity": {"condition": {"test": "datum.value % 1 === 0", "value": 1}, "value": 0}}},
"text": {"field": "region", "type": "nominal"}
}
}
]
},
"config": {
"font": "Liberation Sans",
"header": {"labels": false, "title": null},
"headerFacet": {"labels": false, "title": null},
"view": {"stroke": "#333333", "strokeWidth": 1},
"axis": {"labelColor": "#4d4d4d", "labelFontSize": 10, "tickColor": "#333333", "tickSize": 3, "domain": false, "gridColor": "#ebebeb", "gridWidth": 1, "labelPadding": 2}
}
}
